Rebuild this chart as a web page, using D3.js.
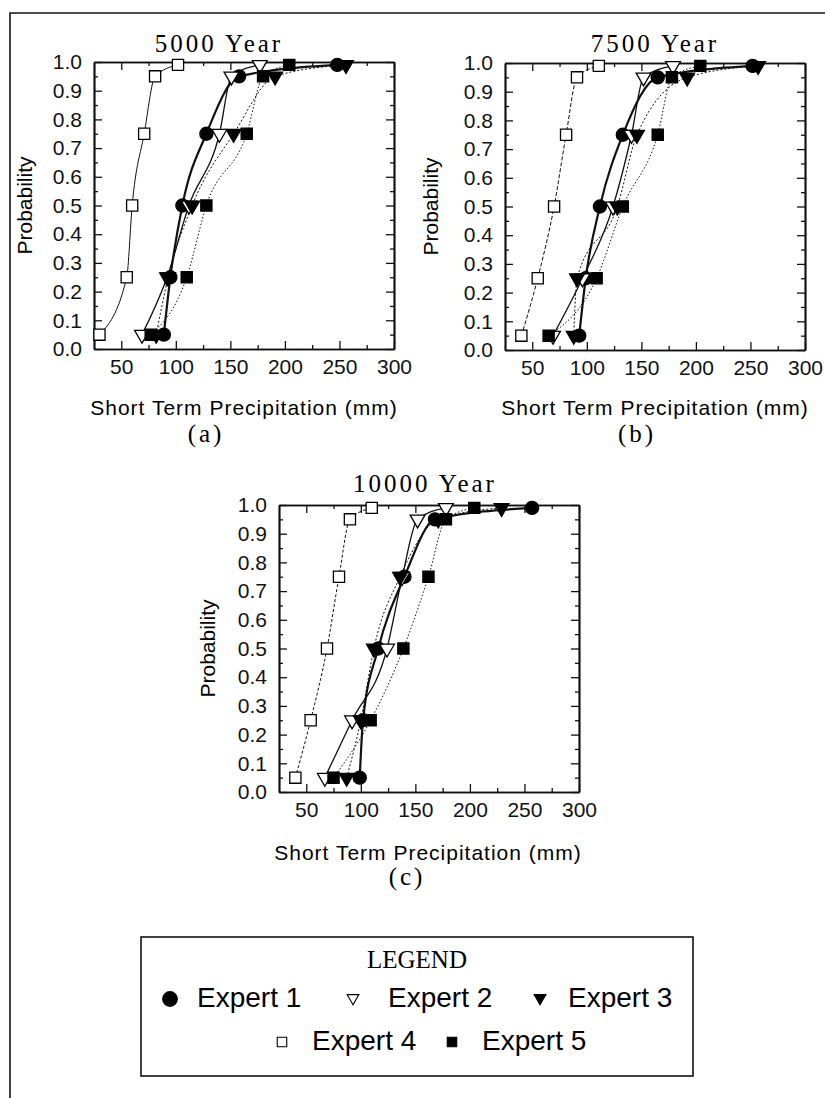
<!DOCTYPE html>
<html>
<head>
<meta charset="utf-8">
<script src="https://cdn.jsdelivr.net/npm/d3@7"></script>
<style>
  html, body { margin: 0; padding: 0; background: #fff; }
  svg { display: block; }
  .tick text { font-family: "Liberation Sans", Arial, sans-serif; font-size: 21px; fill: #111; }
  .tick line { stroke: #111; stroke-width: 1.3; }
  .domain { stroke: #111; stroke-width: 1.7; }
</style>
</head>
<body>
<svg id="chart" width="825" height="1098"></svg>
<script>
// Cumulative probability levels at which each expert gave a precipitation value
const probabilities = [0.05, 0.25, 0.5, 0.75, 0.95, 0.99];

const experts = ["Expert 1", "Expert 2", "Expert 3", "Expert 4", "Expert 5"];

const panelTitles = ["5000 Year", "7500 Year", "10000 Year"];
const panelCaptions = ["(a)", "(b)", "(c)"];

// Short term precipitation (mm) per expert, one row per expert, one column per probability
const precip5000 = [
  [89, 95, 106, 128, 158, 248],
  [69, 92, 112, 140, 151, 177],
  [82, 93, 115, 153, 191, 256],
  [30, 55, 60, 71, 81, 102],
  [77, 110, 128, 165, 180, 204]
];
const precip7500 = [
  [93, 99, 112, 133, 165, 252],
  [69, 96, 124, 141, 152, 179],
  [88, 91, 128, 146, 192, 257],
  [40, 55, 70, 81, 91, 111],
  [65, 109, 133, 165, 178, 204]
];
const precip10000 = [
  [99, 102, 116, 140, 168, 257],
  [67, 92, 124, 138, 152, 178],
  [87, 100, 112, 136, 171, 229],
  [40, 54, 69, 80, 90, 110],
  [75, 109, 139, 162, 178, 204]
];
const panelData = [precip5000, precip7500, precip10000];

const xDomain = [25, 300];
const xTicks = [50, 100, 150, 200, 250, 300];
const xMinorTicks = [75, 125, 175, 225, 275];
const yTicks = [0, 0.1, 0.2, 0.3, 0.4, 0.5, 0.6, 0.7, 0.8, 0.9, 1.0];
const yMinorTicks = [0.05, 0.15, 0.25, 0.35, 0.45, 0.55, 0.65, 0.75, 0.85, 0.95];

const xAxisTitle = "Short Term Precipitation (mm)";
const yAxisTitle = "Probability";

// ---- layout and styling ----
const PW = 300, PH = 287;
const layout = [
  { left: 94,  top: 62,  titleX: 219, titleY: 52,  xLabX: 244, xLabY: 415, capX: 206, capY: 442, yLabX: 25 },
  { left: 505, top: 63,  titleX: 655, titleY: 52,  xLabX: 655, xLabY: 415, capX: 637, capY: 442, yLabX: 431 },
  { left: 279, top: 505, titleX: 425, titleY: 492, xLabX: 428, xLabY: 860, capX: 407, capY: 885, yLabX: 208 }
];

const markerStyle = [
  { type: d3.symbolCircle,   size: 135, fill: "#000", rot: 0 },
  { type: d3.symbolTriangle, size: 95,  fill: "#fff", rot: 180 },
  { type: d3.symbolTriangle, size: 95,  fill: "#000", rot: 180 },
  { type: d3.symbolSquare,   size: 125, fill: "#fff", rot: 0 },
  { type: d3.symbolSquare,   size: 125, fill: "#000", rot: 0 }
];
// stroke width and dash pattern for each expert's curve, per panel
const lineStyle = [
  [{ w: 2.2, dash: null }, { w: 2.2, dash: null }, { w: 2.2, dash: null }],
  [{ w: 1.3, dash: null }, { w: 1.3, dash: null }, { w: 1.3, dash: null }],
  [{ w: 1.0, dash: "2,2" }, { w: 1.0, dash: "2,2" }, { w: 1.0, dash: "2,2" }],
  [{ w: 1.0, dash: null }, { w: 1.0, dash: "4,2" }, { w: 1.0, dash: "3,2" }],
  [{ w: 1.0, dash: "1.5,2" }, { w: 1.0, dash: "1.5,2" }, { w: 1.0, dash: "1.5,2" }]
];

const serif = '"Liberation Serif", "Times New Roman", serif';
const sans = '"Liberation Sans", Arial, sans-serif';

const svg = d3.select("#chart");

// page frame: left and top rules
svg.append("path")
  .attr("d", "M10,1098 V13 H825")
  .attr("fill", "none").attr("stroke", "#111").attr("stroke-width", 1.6);

function drawPanel(i) {
  const L = layout[i];
  const data = panelData[i];
  const x = d3.scaleLinear().domain(xDomain).range([L.left, L.left + PW]);
  const y = d3.scaleLinear().domain([0, 1]).range([L.top + PH, L.top]);
  const g = svg.append("g");

  // inward ticks on all four sides, majors labelled on bottom and left
  g.append("g").attr("transform", `translate(0,${L.top + PH})`)
    .call(d3.axisBottom(x).tickValues(xTicks).tickSizeInner(-8).tickSizeOuter(0).tickPadding(10));
  g.append("g").attr("transform", `translate(0,${L.top + PH})`)
    .call(d3.axisBottom(x).tickValues(xMinorTicks).tickSizeInner(-4).tickSizeOuter(0).tickFormat(""));
  g.append("g").attr("transform", `translate(${L.left},0)`)
    .call(d3.axisLeft(y).tickValues(yTicks).tickSizeInner(-8).tickSizeOuter(0).tickPadding(12).tickFormat(d3.format(".1f")));
  g.append("g").attr("transform", `translate(${L.left},0)`)
    .call(d3.axisLeft(y).tickValues(yMinorTicks).tickSizeInner(-4).tickSizeOuter(0).tickFormat(""));
  g.append("g").attr("transform", `translate(0,${L.top})`)
    .call(d3.axisTop(x).tickValues(xTicks).tickSizeInner(-8).tickSizeOuter(0).tickFormat(""));
  g.append("g").attr("transform", `translate(0,${L.top})`)
    .call(d3.axisTop(x).tickValues(xMinorTicks).tickSizeInner(-4).tickSizeOuter(0).tickFormat(""));
  g.append("g").attr("transform", `translate(${L.left + PW},0)`)
    .call(d3.axisRight(y).tickValues(yTicks).tickSizeInner(-8).tickSizeOuter(0).tickFormat(""));
  g.append("g").attr("transform", `translate(${L.left + PW},0)`)
    .call(d3.axisRight(y).tickValues(yMinorTicks).tickSizeInner(-4).tickSizeOuter(0).tickFormat(""));

  // titles
  g.append("text").attr("x", L.titleX).attr("y", L.titleY)
    .attr("text-anchor", "middle").attr("font-family", serif).attr("font-size", 25)
    .attr("letter-spacing", 3).text(panelTitles[i]);
  g.append("text").attr("x", L.xLabX).attr("y", L.xLabY)
    .attr("text-anchor", "middle").attr("font-family", sans).attr("font-size", 21)
    .attr("letter-spacing", 1).text(xAxisTitle);
  g.append("text").attr("x", L.capX).attr("y", L.capY)
    .attr("text-anchor", "middle").attr("font-family", serif).attr("font-size", 25)
    .attr("letter-spacing", 3).text(panelCaptions[i]);
  g.append("text")
    .attr("transform", `translate(${L.yLabX + 7},${L.top + PH / 2}) rotate(-90)`)
    .attr("text-anchor", "middle").attr("font-family", sans).attr("font-size", 21)
    .text(yAxisTitle);

  const line = d3.line().x(d => x(d[0])).y(d => y(d[1])).curve(d3.curveMonotoneX);

  // fitted curves
  data.forEach((vals, e) => {
    const pts = vals.map((v, k) => [v, probabilities[k]]);
    const st = lineStyle[e][i];
    g.append("path").attr("d", line(pts))
      .attr("fill", "none").attr("stroke", "#111")
      .attr("stroke-width", st.w)
      .attr("stroke-dasharray", st.dash);
  });

  // markers
  data.forEach((vals, e) => {
    const m = markerStyle[e];
    const sym = d3.symbol().type(m.type).size(m.size);
    g.append("g").selectAll("path")
      .data(vals.map((v, k) => [v, probabilities[k]]))
      .join("path")
      .attr("d", sym)
      .attr("transform", d => `translate(${x(d[0])},${y(d[1])}) rotate(${m.rot})`)
      .attr("fill", m.fill).attr("stroke", "#000").attr("stroke-width", 1.3);
  });
}

[0, 1, 2].forEach(drawPanel);

// ---- legend ----
const legendBox = { x: 141, y: 937, w: 552, h: 139 };
const lg = svg.append("g");
lg.append("rect")
  .attr("x", legendBox.x).attr("y", legendBox.y)
  .attr("width", legendBox.w).attr("height", legendBox.h)
  .attr("fill", "none").attr("stroke", "#111").attr("stroke-width", 1.6);
lg.append("text").attr("x", 417).attr("y", 968)
  .attr("text-anchor", "middle").attr("font-family", serif).attr("font-size", 25)
  .text("LEGEND");

const legendPos = [
  { sx: 170, sy: 999,  tx: 197, ty: 1007, size: 170 },
  { sx: 353, sy: 998,  tx: 388, ty: 1007, size: 60 },
  { sx: 540, sy: 998,  tx: 568, ty: 1007, size: 60 },
  { sx: 282, sy: 1042, tx: 312, ty: 1050, size: 90 },
  { sx: 452, sy: 1042, tx: 482, ty: 1050, size: 90 }
];
experts.forEach((name, e) => {
  const p = legendPos[e];
  const m = markerStyle[e];
  lg.append("path")
    .attr("d", d3.symbol().type(m.type).size(p.size))
    .attr("transform", `translate(${p.sx},${p.sy}) rotate(${m.rot})`)
    .attr("fill", m.fill).attr("stroke", "#000").attr("stroke-width", 1.1);
  lg.append("text").attr("x", p.tx).attr("y", p.ty)
    .attr("font-family", sans).attr("font-size", 28)
    .text(name);
});
</script>
</body>
</html>
